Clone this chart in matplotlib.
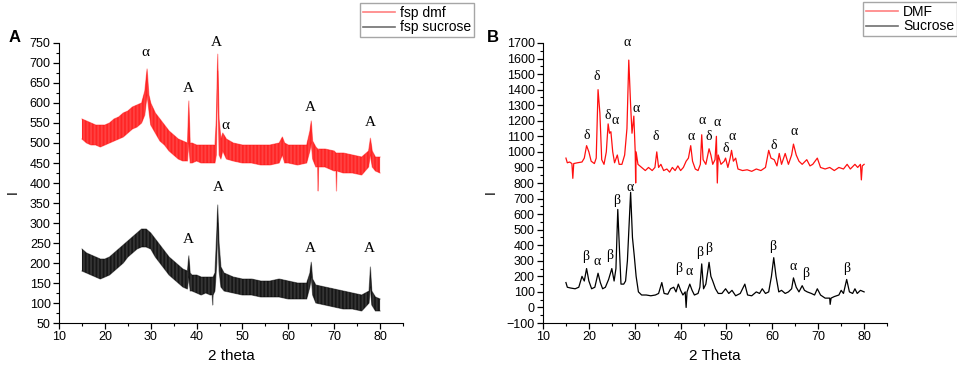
import numpy as np
import matplotlib
matplotlib.use("Agg")
import matplotlib.pyplot as plt
from matplotlib.ticker import MultipleLocator, AutoMinorLocator
from matplotlib.lines import Line2D

plt.rcParams['font.family'] = ['Liberation Sans', 'DejaVu Sans']
plt.rcParams['hatch.linewidth'] = 0.5

# ---- Panel A: noisy patterns, read as low / high edges of the noise band ----
a_red_x  = [15, 16, 17, 18, 19, 20, 21, 22, 23, 24, 25, 26, 27, 28, 28.7, 29.2, 29.6, 30, 31, 32, 33, 34, 35, 36, 37,
            38.0, 38.3, 38.6, 39, 40, 41, 42, 43, 44.0, 44.3, 44.6, 44.9, 45.3, 45.7, 46.5, 48, 50, 52, 54, 56, 58,
            58.7, 59.2, 60, 62, 64, 64.7, 65.0, 65.3, 66, 66.4, 66.5, 66.6, 68, 70, 70.4, 70.5, 70.6, 72, 74, 76,
            77.5, 77.9, 78.3, 79, 80]
a_red_lo = [510, 500, 495, 495, 490, 495, 500, 505, 510, 515, 525, 535, 540, 550, 570, 620, 580, 545, 525, 505, 495, 480, 470, 460, 455,
            455, 500, 450, 450, 455, 450, 450, 450, 450, 470, 680, 470, 460, 480, 460, 455, 450, 450, 445, 445, 450,
            470, 450, 450, 445, 450, 480, 500, 460, 440, 440, 380, 440, 440, 430, 430, 380, 430, 425, 425, 420,
            440, 470, 440, 430, 425]
a_red_hi = [560, 555, 550, 545, 545, 545, 550, 560, 565, 575, 580, 590, 595, 600, 630, 685, 620, 600, 575, 560, 545, 530, 520, 510, 505,
            500, 605, 500, 500, 495, 495, 495, 495, 495, 560, 722, 560, 510, 525, 510, 500, 495, 495, 495, 495, 500,
            515, 500, 495, 495, 495, 530, 555, 505, 490, 485, 480, 485, 485, 480, 475, 475, 475, 475, 470, 465,
            480, 512, 480, 465, 465]

a_blk_x  = [15, 16, 17, 18, 19, 20, 21, 22, 23, 24, 25, 26, 27, 28, 29, 30, 31, 32, 33, 34, 35, 36, 37,
            38.0, 38.3, 38.6, 39, 40, 41, 42, 43, 43.4, 43.5, 43.6, 44.0, 44.4, 44.6, 44.9, 45.3, 46, 48, 50, 52, 54,
            56, 58, 60, 62, 64, 64.7, 65.0, 65.3, 66, 68, 70, 72, 74, 76, 77.6, 77.9, 78.2, 79, 80]
a_blk_lo = [180, 175, 170, 165, 160, 165, 170, 180, 190, 200, 215, 225, 235, 240, 240, 235, 215, 200, 185, 170, 160, 150, 140,
            135, 165, 130, 130, 125, 120, 125, 120, 120, 95, 120, 130, 200, 300, 180, 140, 130, 125, 120, 120, 115,
            115, 115, 110, 110, 110, 140, 165, 120, 100, 95, 90, 85, 85, 80, 100, 140, 95, 80, 80]
a_blk_hi = [235, 225, 220, 215, 210, 210, 215, 225, 235, 245, 255, 265, 275, 285, 285, 275, 260, 245, 230, 215, 205, 195, 185,
            180, 218, 175, 170, 170, 165, 165, 165, 165, 165, 165, 175, 280, 345, 250, 190, 175, 165, 160, 160, 155,
            155, 160, 155, 150, 150, 175, 202, 160, 145, 140, 135, 130, 125, 120, 130, 190, 130, 115, 110]

# ---- Panel B ----
b_dmf_x = [15.0, 15.3, 15.8, 16.3, 16.5, 16.7, 17.5, 18.5, 19.0, 19.5, 20.0, 20.5, 21.2, 21.6, 22.0, 22.4, 22.8, 23.3,
           23.8, 24.2, 24.5, 24.8, 25.2, 25.6, 26.2, 26.6, 27.2, 27.8, 28.3, 28.7, 29.1, 29.4, 29.8, 30.1, 30.2, 30.3,
           30.7, 31.5, 32.3, 33.0, 33.8, 34.4, 34.8, 35.2, 35.7, 36.3, 37.0, 37.6, 38.2, 38.8, 39.4, 40.0, 40.6, 41.2,
           41.7, 42.2, 42.6, 43.2, 43.8, 44.3, 44.6, 44.9, 45.5, 46.2, 46.6, 47.0, 47.5, 47.8, 48.0, 48.2, 48.8, 49.5,
           49.8, 50.3, 50.8, 51.1, 51.5, 52.0, 52.5, 53.5, 54.5, 55.5, 56.5, 57.5, 58.5, 59.2, 59.7, 60.4, 61.0, 61.5,
           62.0, 62.8, 63.5, 64.2, 64.6, 65.2, 65.8, 66.5, 67.5, 68.2, 68.8, 69.8, 70.5, 71.5, 72.5, 73.5, 74.5, 75.5,
           76.3, 77.0, 78.0, 78.6, 79.2, 79.4, 79.6, 80.0]
b_dmf_y = [960, 930, 935, 925, 830, 925, 930, 935, 960, 1040, 1000, 940, 925, 960, 1400, 1250, 950, 920,
           1000, 1180, 1120, 1130, 1000, 930, 980, 920, 920, 980, 1150, 1590, 1300, 1120, 1230, 1000, 800, 1000,
           920, 900, 880, 900, 880, 900, 1000, 900, 920, 880, 890, 870, 900, 880, 910, 880, 900, 940,
           960, 1040, 940, 890, 880, 920, 1110, 950, 920, 1020, 980, 920, 950, 1100, 800, 980, 920, 940,
           960, 900, 960, 1010, 940, 960, 890, 880, 885, 875, 890, 880, 900, 1010, 960, 950, 910, 990,
           920, 990, 920, 980, 1050, 980, 940, 920, 950, 910, 920, 960, 900, 890, 900, 880, 900, 890,
           920, 890, 920, 900, 920, 820, 910, 920]

b_suc_x = [15.0, 15.3, 16.0, 17.0, 17.8, 18.5, 19.0, 19.5, 20.0, 20.6, 21.3, 22.0, 22.5, 23.0, 23.6, 24.3, 25.0, 25.5,
           25.9, 26.3, 26.7, 27.0, 27.6, 28.0, 28.4, 29.1, 29.5, 29.9, 30.3, 30.8, 31.5, 32.5, 33.5, 34.5, 35.2, 35.9,
           36.4, 37.2, 37.8, 38.5, 39.0, 39.5, 40.0, 40.5, 41.0, 41.2, 41.4, 42.0, 42.5, 43.0, 43.8, 44.2, 44.6, 45.0,
           45.5, 46.2, 46.6, 47.0, 47.6, 48.2, 49.0, 49.8, 50.5, 51.2, 52.0, 53.0, 54.0, 54.6, 55.5, 56.5, 57.2, 57.8,
           58.5, 59.2, 59.8, 60.3, 60.8, 61.4, 62.0, 62.8, 63.5, 64.2, 64.6, 65.2, 65.8, 66.5, 67.0, 67.6, 68.5, 69.2,
           69.8, 70.5, 71.5, 72.5, 72.6, 72.8, 73.5, 74.5, 75.0, 75.5, 76.2, 76.8, 77.5, 78.0, 78.5, 79.2, 80.0]
b_suc_y = [160, 130, 125, 120, 130, 200, 170, 250, 170, 120, 130, 220, 160, 120, 130, 180, 250, 170,
           250, 630, 350, 150, 150, 170, 300, 740, 450, 330, 200, 100, 80, 80, 75, 80, 90, 160,
           90, 85, 120, 130, 100, 150, 110, 80, 100, 0, 100, 150, 110, 80, 90, 130, 280, 120,
           150, 290, 200, 170, 120, 90, 90, 120, 90, 110, 75, 90, 150, 80, 75, 100, 90, 120,
           90, 100, 200, 320, 200, 100, 110, 90, 100, 120, 190, 130, 100, 140, 110, 100, 90, 80,
           120, 80, 60, 60, 20, 60, 70, 80, 110, 90, 180, 100, 90, 120, 90, 110, 100]

# peak labels
a_red_lbl = [(28.75, 725, 'α'), (44.4, 752, 'A'), (38.1, 635, 'A'), (46.2, 543, 'α'), (64.7, 588, 'A'), (77.8, 550, 'A')]
a_blk_lbl = [(44.7, 388, 'A'), (38.3, 258, 'A'), (64.7, 237, 'A'), (77.6, 237, 'A')]
b_dmf_lbl = [(28.4, 1700, 'α'), (21.7, 1483, 'δ'), (24.2, 1237, 'δ'), (25.8, 1200, 'α'), (30.2, 1280, 'α'),
             (19.5, 1108, 'δ'), (34.6, 1097, 'δ'), (42.3, 1097, 'α'), (44.6, 1200, 'α'), (46.2, 1097, 'δ'),
             (47.9, 1190, 'α'), (49.75, 1023, 'δ'), (51.2, 1097, 'α'), (60.2, 1040, 'δ'), (64.7, 1130, 'α')]
b_suc_lbl = [(29.1, 772, 'α'), (26.1, 690, 'β'), (19.4, 326, 'β'), (21.8, 298, 'α'), (24.6, 331, 'β'),
             (39.5, 251, 'β'), (41.9, 230, 'α'), (44.2, 352, 'β'), (46.0, 380, 'β'), (60.1, 390, 'β'),
             (64.6, 262, 'α'), (67.3, 219, 'β'), (76.2, 251, 'β')]

RED = '#ff1010'
BLK = '#000000'
SERIF = ['Liberation Serif', 'DejaVu Serif']


def style_axes(ax, ylim, ymajor):
    ax.set_xlim(10, 85)
    ax.set_ylim(*ylim)
    ax.spines['top'].set_visible(False)
    ax.spines['right'].set_visible(False)
    ax.xaxis.set_major_locator(MultipleLocator(10))
    ax.xaxis.set_minor_locator(AutoMinorLocator(2))
    ax.yaxis.set_major_locator(MultipleLocator(ymajor))
    ax.yaxis.set_minor_locator(AutoMinorLocator(2))
    ax.tick_params(which='major', direction='out', length=4, width=0.9, labelsize=9, pad=2)
    ax.tick_params(which='minor', direction='out', length=2, width=0.8)


def noisy_band(ax, x, lo, hi, color):
    # noise band: fill plus dense vertical hatching for the jitter look
    ax.fill_between(x, lo, hi, facecolor=color, alpha=0.7, lw=0)
    ax.fill_between(x, lo, hi, facecolor='none', edgecolor=color, hatch='|' * 12, lw=0)
    ax.plot(x, lo, color=color, lw=0.8, alpha=0.45)
    ax.plot(x, hi, color=color, lw=0.8, alpha=0.45)


fig = plt.figure(figsize=(9.57, 3.70), dpi=100)

axA = fig.add_axes([0.0617, 0.127, 0.3594, 0.7568])
axB = fig.add_axes([0.5674, 0.127, 0.3595, 0.7568])

# panel A
noisy_band(axA, a_red_x, a_red_lo, a_red_hi, RED)
noisy_band(axA, a_blk_x, a_blk_lo, a_blk_hi, BLK)
style_axes(axA, (50, 750), 50)
for x, y, s in a_red_lbl + a_blk_lbl:
    axA.text(x, y, s, ha='center', va='center', fontsize=11, family=SERIF)
axA.set_xlabel('2 theta', fontsize=11, labelpad=4)

# panel B
axB.plot(b_dmf_x, b_dmf_y, color=RED, lw=0.9)
axB.plot(b_suc_x, b_suc_y, color=BLK, lw=0.9)
style_axes(axB, (-100, 1700), 100)
for x, y, s in b_dmf_lbl + b_suc_lbl:
    axB.text(x, y, s, ha='center', va='center', fontsize=10, family=SERIF)
axB.set_xlabel('2 Theta', fontsize=11, labelpad=4)

# y labels and panel letters
fig.text(13 / 957, 1 - 192 / 370, 'I', rotation=90, ha='center', va='center', fontsize=10)
fig.text(491 / 957, 1 - 192 / 370, 'I', rotation=90, ha='center', va='center', fontsize=10)
fig.text(15 / 957, 1 - 38 / 370, 'A', ha='center', va='center', fontsize=12, fontweight='bold')
fig.text(493 / 957, 1 - 37 / 370, 'B', ha='center', va='center', fontsize=12, fontweight='bold')

# legends
hA = [Line2D([], [], color='#ff8080', lw=1.2), Line2D([], [], color='#707070', lw=1.2)]
leg_kw = dict(loc='upper left', fontsize=10, frameon=True, fancybox=False, handlelength=2.3,
              borderpad=0.2, labelspacing=0.05, handletextpad=0.4, borderaxespad=0)
lgA = fig.legend(hA, ['fsp dmf', 'fsp sucrose'], bbox_to_anchor=(360 / 957, 1 - 3 / 370), **leg_kw)
lgB = fig.legend(hA, ['DMF', 'Sucrose'], bbox_to_anchor=(863 / 957, 1 - 2 / 370), **leg_kw)
for lg in (lgA, lgB):
    lg.get_frame().set_edgecolor('#909090')
    lg.get_frame().set_linewidth(1.0)

fig.savefig('out.png', dpi=100)
